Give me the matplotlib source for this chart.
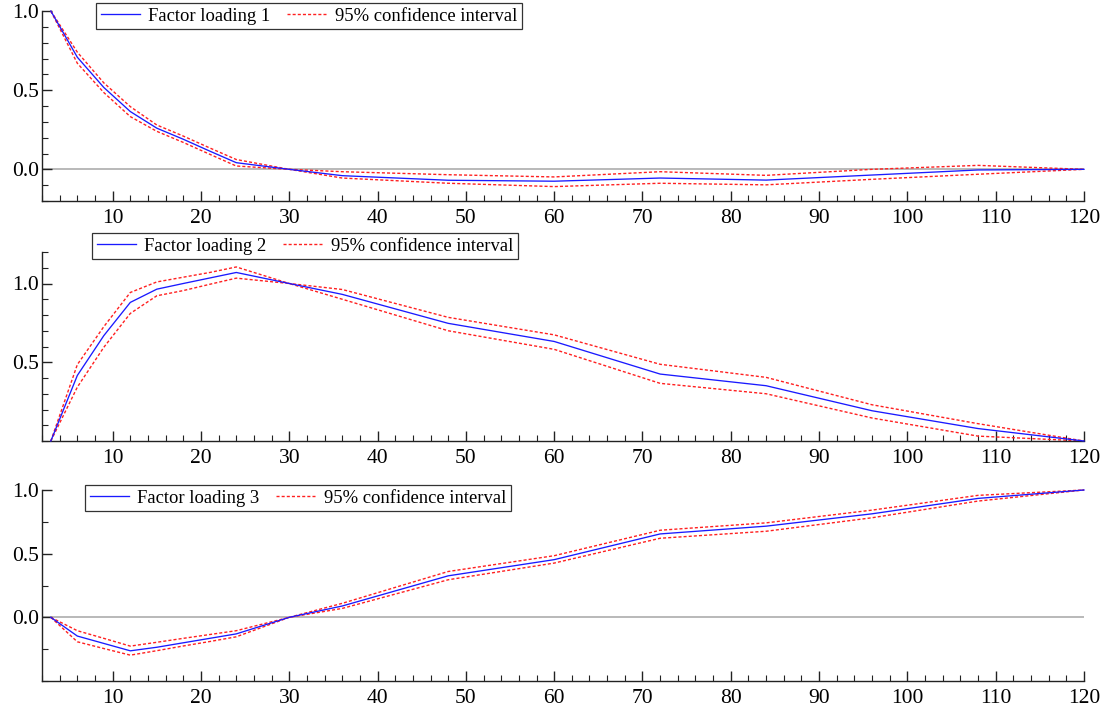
import matplotlib
matplotlib.use("Agg")
import matplotlib.pyplot as plt
from matplotlib.ticker import MultipleLocator, FixedLocator

plt.rcParams['font.family'] = ['Liberation Serif', 'DejaVu Serif']

maturities = [3, 6, 9, 12, 15, 18, 21, 24, 30, 36, 48, 60, 72, 84, 96, 108, 120]

load1 = [1.0, 0.708, 0.517, 0.365, 0.26, 0.19, 0.115, 0.042, 0.0, -0.04, -0.069, -0.075, -0.055, -0.068, -0.036, -0.004, 0.0]
upper1 = [1.0, 0.74, 0.546, 0.396, 0.28, 0.21, 0.135, 0.062, 0.0, -0.015, -0.034, -0.048, -0.015, -0.038, 0.0, 0.025, 0.0]
lower1 = [1.0, 0.67, 0.485, 0.333, 0.24, 0.17, 0.095, 0.021, 0.0, -0.055, -0.088, -0.109, -0.088, -0.098, -0.063, -0.031, 0.0]

load2 = [0.0, 0.416, 0.669, 0.88, 0.964, 1.0, 1.035, 1.07, 1.0, 0.931, 0.747, 0.632, 0.425, 0.351, 0.192, 0.079, 0.0]
upper2 = [0.0, 0.485, 0.726, 0.943, 1.01, 1.04, 1.07, 1.105, 1.0, 0.962, 0.785, 0.674, 0.487, 0.404, 0.23, 0.11, 0.0]
lower2 = [0.0, 0.342, 0.595, 0.81, 0.922, 0.955, 0.995, 1.034, 1.0, 0.90, 0.70, 0.582, 0.366, 0.30, 0.146, 0.031, 0.0]

load3 = [0.0, -0.147, -0.205, -0.263, -0.235, -0.2, -0.165, -0.13, 0.0, 0.089, 0.326, 0.453, 0.655, 0.716, 0.813, 0.934, 1.0]
upper3 = [0.0, -0.105, -0.165, -0.226, -0.196, -0.165, -0.135, -0.105, 0.0, 0.11, 0.36, 0.484, 0.684, 0.742, 0.842, 0.958, 1.0]
lower3 = [0.0, -0.192, -0.245, -0.297, -0.262, -0.225, -0.19, -0.153, 0.0, 0.07, 0.295, 0.426, 0.621, 0.676, 0.782, 0.913, 1.0]

series_labels = ["Factor loading 1", "Factor loading 2", "Factor loading 3"]
ci_label = "95% confidence interval"
xticks = [10, 20, 30, 40, 50, 60, 70, 80, 90, 100, 110, 120]

W, H = 1107, 713
fig = plt.figure(figsize=(W / 100, H / 100), dpi=100)

def ax_rect(top, bottom, left=42, right=1084):
    return [left / W, 1 - bottom / H, (right - left) / W, (bottom - top) / H]

panels = [
    dict(rect=ax_rect(11, 201), y=load1, up=upper1, lo=lower1, ylim=(-0.2, 1.0),
         major=[0.0, 0.5, 1.0], minor=0.1, zero=True, leg=(96, 3)),
    dict(rect=ax_rect(252, 441), y=load2, up=upper2, lo=lower2, ylim=(0.0, 1.2),
         major=[0.5, 1.0], minor=0.1, zero=False, leg=(92, 233)),
    dict(rect=ax_rect(490, 681), y=load3, up=upper3, lo=lower3, ylim=(-0.5, 1.0),
         major=[0.0, 0.5, 1.0], minor=0.25, zero=True, leg=(85, 485)),
]

for i, p in enumerate(panels):
    ax = fig.add_axes(p['rect'])
    if p['zero']:
        ax.axhline(0, color='#a6a6a6', lw=1.1, zorder=1)
    l1, = ax.plot(maturities, p['y'], color='#1a1aff', lw=0.95, label=series_labels[i], zorder=3, clip_on=False)
    l2, = ax.plot(maturities, p['up'], color='#ff2020', lw=1.0, ls=(0, (2.2, 1.5)), label=ci_label, zorder=2, clip_on=False)
    ax.plot(maturities, p['lo'], color='#ff2020', lw=1.0, ls=(0, (2.2, 1.5)), zorder=2, clip_on=False)
    ax.set_xlim(2, 120)
    ax.set_ylim(*p['ylim'])
    ax.xaxis.set_major_locator(FixedLocator(xticks))
    ax.xaxis.set_minor_locator(MultipleLocator(2))
    ax.yaxis.set_major_locator(FixedLocator(p['major']))
    ax.yaxis.set_minor_locator(MultipleLocator(p['minor']))
    ax.set_yticklabels([f"{v:.1f}" for v in p['major']])
    for s in ['top', 'right']:
        ax.spines[s].set_visible(False)
    for s in ['left', 'bottom']:
        ax.spines[s].set_linewidth(1.0)
        ax.spines[s].set_color('#222222')
    ax.tick_params(axis='both', which='both', direction='in', colors='#222222', labelcolor='black')
    ax.tick_params(axis='both', which='major', length=7, width=1.0, labelsize=15.5)
    ax.tick_params(axis='both', which='minor', length=4, width=0.8)
    ax.tick_params(axis='x', which='major', pad=6)
    ax.tick_params(axis='y', which='major', pad=2)
    lx, ly = p['leg']
    leg = ax.legend(handles=[l1, l2], loc='upper left', bbox_to_anchor=(lx / W, 1 - ly / H),
                    bbox_transform=fig.transFigure, ncol=2, frameon=True, fancybox=False,
                    fontsize=13.4, handlelength=2.1, handletextpad=0.45, columnspacing=0.9,
                    borderpad=0.25, borderaxespad=0.0)
    leg.get_frame().set_edgecolor('black')
    leg.get_frame().set_linewidth(0.9)
    leg.set_zorder(5)

fig.savefig("out.png", dpi=100)
